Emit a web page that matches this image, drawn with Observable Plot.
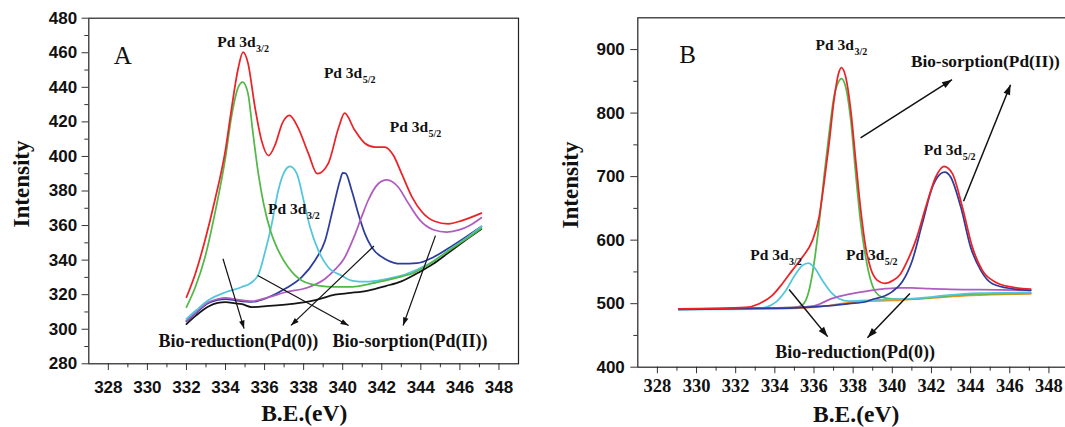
<!DOCTYPE html>
<html><head><meta charset="utf-8">
<script src="https://cdn.jsdelivr.net/npm/d3@7"></script>
<script src="https://cdn.jsdelivr.net/npm/@observablehq/plot@0.6"></script>
<style>
html,body{margin:0;padding:0;background:#fff;overflow:hidden;}
#wrap{position:relative;width:1065px;height:427px;overflow:hidden;background:#fff;}
#a{position:absolute;left:0;top:0;width:530px;height:427px;}
#b{position:absolute;left:535px;top:0;width:540px;height:427px;}
</style></head><body>
<div id="wrap"><div id="a"></div><div id="b"></div></div>
<script>
// ---------- Panel A data (B.E. eV, intensity) ----------
const aRed = [[332.0,318.5],[332.45,332],[332.95,351.5],[333.45,374.5],[334.0,404],[334.3,427],[334.65,451],[334.9,460.3],[335.15,454],[335.5,429],[335.85,409],[336.2,400.5],[336.55,407],[336.9,419],[337.27,423.7],[337.7,417],[338.25,401.5],[338.7,390],[339.25,395.7],[339.8,417],[340.1,425],[340.6,415.5],[341.15,407.5],[341.65,405.4],[342.15,405.4],[342.6,400.5],[343.0,390.5],[343.55,376.5],[344.05,368],[344.7,362.5],[345.4,361],[346.1,362.9],[347.1,367.2]];
const aGreen = [[332.0,312.8],[332.45,324.3],[332.95,341.7],[333.45,366.8],[334.0,399.6],[334.3,422.7],[334.65,440],[334.88,443],[335.15,436.5],[335.4,414],[335.68,390],[335.95,372.6],[336.3,357],[336.7,345.6],[337.2,336],[337.9,328.2],[338.75,325.3],[339.6,324.5],[340.5,324.5],[341.3,326],[342.1,328],[343.0,330.5],[343.6,332.5],[344.2,336],[344.8,340.5],[345.5,346],[346.3,352],[347.1,358.5]];
const aCyan = [[332.0,306],[332.5,311],[333.1,316.6],[334.0,321.4],[334.8,324.3],[335.35,327.2],[335.7,332.1],[336.0,343.7],[336.37,361],[336.7,380.3],[337.05,391.9],[337.3,394.2],[337.65,390],[338.0,374.5],[338.33,359],[338.75,345.6],[339.25,336],[339.95,331],[340.5,328],[341.2,327.5],[342.2,329],[343.0,331],[343.9,335],[344.6,339],[345.5,346.5],[346.3,352.5],[347.1,359.5]];
const aPurple = [[332.0,305],[332.5,310],[333.1,315.5],[333.6,317.5],[334.0,318.2],[334.6,317.2],[335.35,316.2],[336.2,318.5],[337.05,321.4],[338.25,324.3],[339.1,329.2],[339.6,334.5],[340.05,340.5],[340.6,354],[341.0,366],[341.3,374.5],[341.82,384.2],[342.25,386.5],[342.85,382.2],[343.3,374],[343.96,363],[344.64,357.6],[345.33,356.2],[346.0,357.6],[346.5,360],[347.1,364.5]];
const aBlue = [[332.0,304.5],[332.5,309.5],[333.1,315],[333.6,317],[334.0,317.5],[334.6,316.5],[335.35,315.8],[336.2,318.5],[337.05,323.4],[337.9,330.1],[338.58,339.8],[339.1,351.4],[339.52,370.6],[339.86,386.1],[340.0,390.5],[340.15,390.2],[340.46,380.3],[340.8,366.8],[341.14,355.2],[341.48,347.5],[342.17,340.7],[343.0,337.9],[343.8,338.2],[344.64,341.7],[345.5,347.5],[346.35,353.7],[347.1,359.5]];
const aBlack = [[332.0,303],[332.5,308],[333.1,313],[333.6,315.3],[334.0,315.7],[334.5,315],[334.85,314.5],[335.35,312.8],[336.2,313.5],[337.4,314.7],[338.0,315.5],[338.6,316.8],[339.6,320],[340.4,321],[341.3,322.4],[342.2,325],[343.0,327.7],[343.96,333.3],[344.64,337.9],[345.5,345],[346.35,352],[347.1,358]];

// ---------- Panel B data ----------
const bRed = [[329.1,492],[331,492.5],[332.5,494],[333.2,500],[333.87,513],[334.38,531.4],[334.89,552.4],[335.41,573.3],[335.92,599.6],[336.26,636],[336.51,689],[336.77,752],[337.02,820],[337.25,862],[337.4,871.7],[337.62,857],[337.88,804],[338.13,725.7],[338.39,647],[338.64,589],[338.9,555],[339.24,536.6],[339.6,532],[340.05,537],[340.4,546],[340.7,563],[341.2,599.6],[341.71,652],[342.22,699.4],[342.64,716],[343.07,704.7],[343.58,652],[344.09,589],[344.6,552.4],[345.28,533.9],[346.13,526],[347.07,523]];
const bGreen = [[329.1,491.5],[333,492.5],[335.0,494],[335.41,498],[335.75,521],[336.0,563],[336.26,626],[336.51,699.4],[336.77,767.7],[337.02,825.4],[337.25,849],[337.4,854.4],[337.62,841.2],[337.88,788.7],[338.13,704.7],[338.39,626],[338.64,573.3],[338.9,536.6],[339.15,518.2],[339.49,510.3],[340.0,507.5],[340.6,507],[341.5,508],[342.7,512],[344.4,515.5],[347.07,516.5]];
const bCyan = [[329.1,490.5],[331,491],[333,492],[333.6,495],[334.05,502.4],[334.56,520.8],[335.07,547.1],[335.41,560.2],[335.71,563.9],[336.0,557.6],[336.43,536.6],[336.86,518.2],[337.28,507.8],[337.79,504],[338.6,505],[339.5,506.5],[341.0,507.8],[342.0,510.5],[342.73,513],[344.43,516.5],[347.07,517.5]];
const bPurple = [[329.1,491.5],[333,493],[335,494],[336.0,496.5],[336.9,508],[337.79,515],[338.64,519.5],[339.66,523.5],[340.4,525],[341.0,525],[341.88,523.5],[343,522.5],[344.43,522],[347.07,521]];
const bBlue = [[329.1,491],[333,492.5],[335,493.5],[336.5,496],[337.8,500],[338.64,503],[339.0,507],[339.6,512],[340.0,519],[340.5,534],[341.02,568],[341.53,626],[342.05,683.6],[342.47,704.7],[342.68,707.2],[342.98,699.4],[343.5,652],[344.0,589],[344.52,552.4],[345.11,531.4],[346.13,523.5],[347.07,521]];
const bOrange = [[329.1,491],[335,492.5],[336.5,496],[337.5,500.5],[338.5,503.5],[340,505],[342,509],[344,513],[347.07,515.5]];

// ---------- ticks ----------
const xMajor = [328,330,332,334,336,338,340,342,344,346,348];
const xMinor = [329,331,333,335,337,339,341,343,345,347];
const aYMajor = [280,300,320,340,360,380,400,420,440,460,480];
const aYMinor = [290,310,330,350,370,390,410,430,450,470];
const bYMajor = [400,500,600,700,800,900];
const bYMinor = [450,550,650,750,850];

// ---------- annotations (data coordinates) ----------
const aPeakLabels = [
  {x:335.54, y:463.2, main:"Pd 3d", sub:"3/2"},
  {x:341.0,  y:445.5, main:"Pd 3d", sub:"5/2"},
  {x:344.37, y:414.0, main:"Pd 3d", sub:"5/2"},
  {x:338.14, y:366.7, main:"Pd 3d", sub:"3/2"}
];
const aNotes = [
  {x:334.66, y:289.6, t:"Bio-reduction(Pd(0))"},
  {x:343.45, y:289.6, t:"Bio-sorption(Pd(II))"}
];
const aArrows = [
  {x1:333.87, y1:340.8, x2:334.95, y2:300.4},
  {x1:335.65, y1:331.1, x2:340.3,  y2:302.2},
  {x1:341.6,  y1:348.2, x2:337.35, y2:302.2},
  {x1:344.75, y1:354.2, x2:343.09, y2:302.2}
];
const bPeakLabels = [
  {x:338.04, y:899.4, main:"Pd 3d", sub:"3/2"},
  {x:343.57, y:734.5, main:"Pd 3d", sub:"5/2"},
  {x:334.70, y:569.5, main:"Pd 3d", sub:"3/2"},
  {x:339.59, y:569.5, main:"Pd 3d", sub:"5/2"}
];
const bNotesStart = [{x:340.95, y:872, t:"Bio-sorption(Pd(II))"}];
const bNotesMid = [{x:338.1, y:414.7, t:"Bio-reduction(Pd(0))"}];
const bArrows = [
  {x1:338.38, y1:761.1, x2:343.05, y2:852.5},
  {x1:343.64, y1:661.1, x2:346.04, y2:844.6},
  {x1:334.73, y1:522.4, x2:336.7,  y2:448.1},
  {x1:340.9,  y1:516.1, x2:338.73, y2:446.5}
];

// ---------- styles ----------
const SERIF = "'Liberation Serif','Times New Roman',serif";
const SANS = "'Liberation Sans',Arial,sans-serif";
const C = {red:"#ec2227", green:"#52b848", cyan:"#52c6dc", blue:"#2d3c9c", purple:"#b05cbf", black:"#151515", orange:"#f2921e"};
const lineOpts = c => ({x: d => d[0], y: d => d[1], stroke: c, strokeWidth: 1.75, curve: "monotone-x"});
const INK = "#111";

function peakLabelMarks(labels) {
  return [
    Plot.text(labels, {x:"x", y:"y", text:"main", textAnchor:"end", lineAnchor:"bottom",
      fontFamily:SERIF, fontWeight:"bold", fontSize:15.5, fill:INK}),
    Plot.text(labels, {x:"x", y:"y", text:"sub", textAnchor:"start", lineAnchor:"bottom", dy:5, dx:0.5,
      fontFamily:SERIF, fontWeight:"bold", fontSize:10, fill:INK})
  ];
}
function arrowMarks(arrows, w) {
  return Plot.link(arrows, {x1:"x1", y1:"y1", x2:"x2", y2:"y2", stroke:INK, strokeWidth:w, markerEnd:"arrow"});
}
function finish(svg) {
  svg.style.maxWidth = "none";
  svg.style.overflow = "visible";
  d3.select(svg).selectAll("marker").each(function() {
    const m = d3.select(this);
    m.attr("viewBox", "-10 -5 10 10").attr("markerWidth", 7).attr("markerHeight", 7)
     .attr("fill", INK).attr("stroke", "none");
    m.select("path").attr("d", "M-9.5,-3.3L0,0L-9.5,3.3Z");
  });
  return svg;
}

// ---------- Panel A ----------
const plotA = Plot.plot({
  width: 530, height: 427,
  marginLeft: 88.3, marginRight: 12, marginTop: 17.7, marginBottom: 63.7,
  x: {domain: [327, 349]},
  y: {domain: [280, 480]},
  style: {fontFamily: SANS, background: "white"},
  marks: [
    Plot.axisX({ticks: xMinor, tickSize: 4, tickFormat: () => "", label: null, stroke: "#333"}),
    Plot.axisX({ticks: xMajor, tickSize: 6.7, tickPadding: 10, tickFormat: d => String(d), label: null,
      fontSize: 17, fontWeight: "bold", fontFamily: SANS, fill: INK, stroke: "#333"}),
    Plot.axisY({ticks: aYMinor, tickSize: 4, tickFormat: () => "", label: null, stroke: "#333"}),
    Plot.axisY({ticks: aYMajor, tickSize: 6.7, tickPadding: 5, tickFormat: d => String(d), label: null,
      fontSize: 17, fontWeight: "bold", fontFamily: SANS, fill: INK, stroke: "#333"}),
    Plot.frame({stroke: "#222", strokeWidth: 1.2}),
    Plot.line(aBlack, lineOpts(C.black)),
    Plot.line(aBlue, lineOpts(C.blue)),
    Plot.line(aPurple, lineOpts(C.purple)),
    Plot.line(aCyan, lineOpts(C.cyan)),
    Plot.line(aGreen, lineOpts(C.green)),
    Plot.line(aRed, lineOpts(C.red)),
    arrowMarks(aArrows, 1.2),
    ...peakLabelMarks(aPeakLabels),
    Plot.text(aNotes, {x:"x", y:"y", text:"t", textAnchor:"middle", lineAnchor:"bottom",
      fontFamily:SERIF, fontWeight:"bold", fontSize:18, fill:INK}),
    Plot.text(["A"], {text: d => d, frameAnchor: "top-left", dx: 25, dy: 45.5, textAnchor: "start", lineAnchor: "bottom",
      fontFamily: SERIF, fontSize: 25, fill: INK}),
    Plot.text(["Intensity"], {text: d => d, frameAnchor: "left", dx: -67.5, dy: -7, rotate: -90,
      textAnchor: "middle", lineAnchor: "middle",
      fontFamily: SERIF, fontWeight: "bold", fontSize: 23, fill: INK}),
    Plot.text(["B.E.(eV)"], {text: d => d, frameAnchor: "bottom", dx: 0.6, dy: 57, textAnchor: "middle", lineAnchor: "bottom",
      fontFamily: SERIF, fontWeight: "bold", fontSize: 23.5, fill: INK})
  ]
});
document.getElementById("a").appendChild(finish(plotA));

// ---------- Panel B ----------
const plotB = Plot.plot({
  width: 540, height: 427,
  marginLeft: 102.3, marginRight: 7, marginTop: 17.3, marginBottom: 60.3,
  x: {domain: [327, 349]},
  y: {domain: [400, 950]},
  style: {fontFamily: SANS, background: "white"},
  marks: [
    Plot.axisX({ticks: xMinor, tickSize: 4, tickFormat: () => "", label: null, stroke: "#333"}),
    Plot.axisX({ticks: xMajor, tickSize: 6.5, tickPadding: 5, tickFormat: d => String(d), label: null,
      fontSize: 18.5, fontWeight: "bold", fontFamily: SERIF, fill: INK, stroke: "#333"}),
    Plot.axisY({ticks: bYMinor, tickSize: 4, tickFormat: () => "", label: null, stroke: "#333"}),
    Plot.axisY({ticks: bYMajor, tickSize: 7, tickPadding: 6, tickFormat: d => String(d), label: null,
      fontSize: 17, fontWeight: "bold", fontFamily: SANS, fill: INK, stroke: "#333"}),
    Plot.frame({stroke: "#222", strokeWidth: 1.2}),
    Plot.line(bOrange, lineOpts(C.orange)),
    Plot.line(bGreen, lineOpts(C.green)),
    Plot.line(bCyan, lineOpts(C.cyan)),
    Plot.line(bPurple, lineOpts(C.purple)),
    Plot.line(bBlue, lineOpts(C.blue)),
    Plot.line(bRed, lineOpts(C.red)),
    arrowMarks(bArrows, 1.5),
    ...peakLabelMarks(bPeakLabels),
    Plot.text(bNotesStart, {x:"x", y:"y", text:"t", textAnchor:"start", lineAnchor:"bottom",
      fontFamily:SERIF, fontWeight:"bold", fontSize:17.3, fill:INK}),
    Plot.text(bNotesMid, {x:"x", y:"y", text:"t", textAnchor:"middle", lineAnchor:"bottom",
      fontFamily:SERIF, fontWeight:"bold", fontSize:18, fill:INK}),
    Plot.text(["B"], {text: d => d, frameAnchor: "top-left", dx: 41.5, dy: 45.5, textAnchor: "start", lineAnchor: "bottom",
      fontFamily: SERIF, fontSize: 25, fill: INK}),
    Plot.text(["Intensity"], {text: d => d, frameAnchor: "left", dx: -67, dy: -7.5, rotate: -90,
      textAnchor: "middle", lineAnchor: "middle",
      fontFamily: SERIF, fontWeight: "bold", fontSize: 23, fill: INK}),
    Plot.text(["B.E.(eV)"], {text: d => d, frameAnchor: "bottom", dx: 3, dy: 54.5, textAnchor: "middle", lineAnchor: "bottom",
      fontFamily: SERIF, fontWeight: "bold", fontSize: 23.5, fill: INK})
  ]
});
document.getElementById("b").appendChild(finish(plotB));
</script>
</body></html>
